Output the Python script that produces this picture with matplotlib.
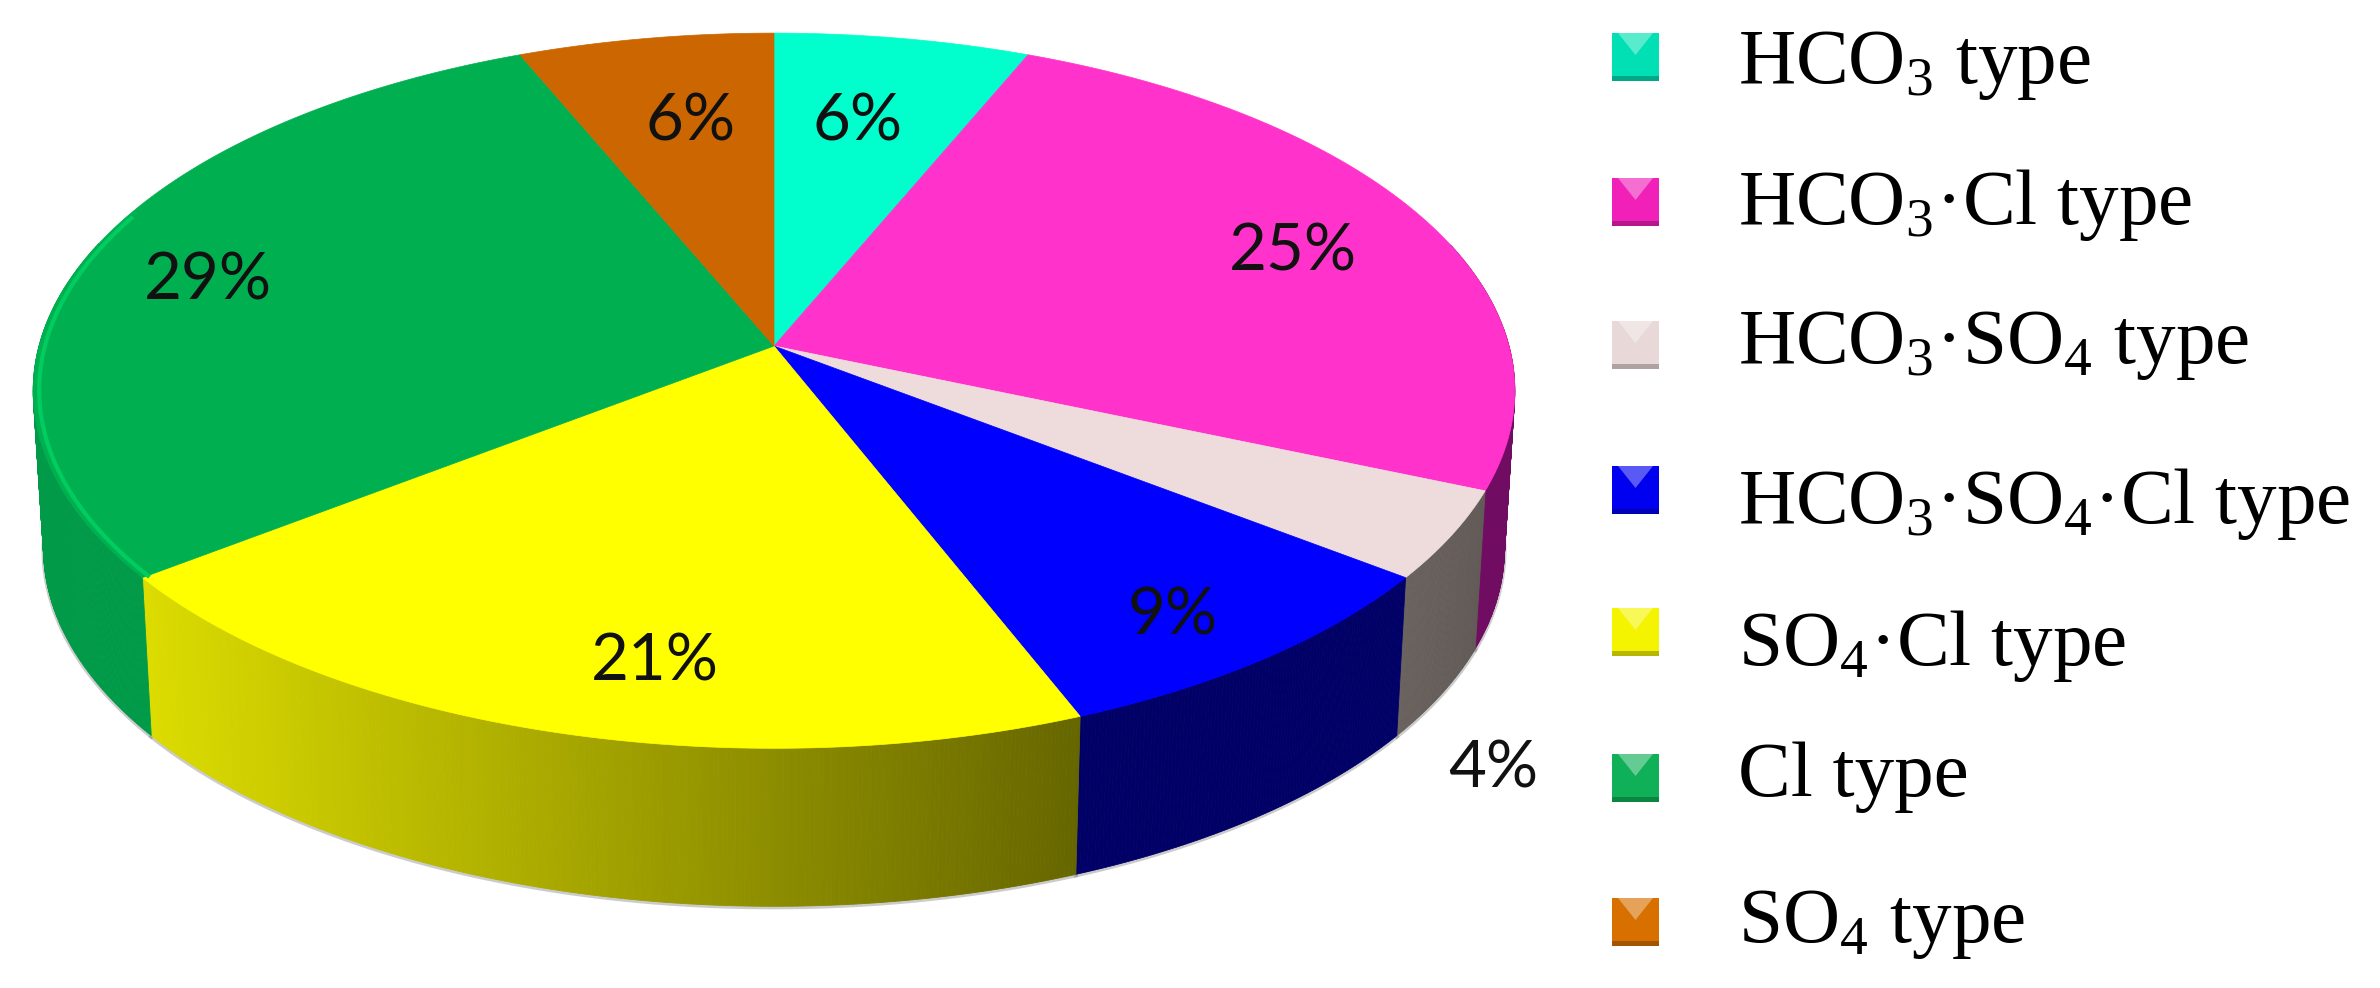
import numpy as np
import matplotlib
matplotlib.use('Agg')
import matplotlib.pyplot as plt
from matplotlib.colors import to_rgb
from matplotlib.patches import Polygon, Rectangle

plt.rcParams['mathtext.fontset'] = 'custom'
plt.rcParams['mathtext.rm'] = 'Liberation Serif'

# data
names = ['HCO$_3$ type', 'HCO$_3$·Cl type', 'HCO$_3$·SO$_4$ type', 'HCO$_3$·SO$_4$·Cl type',
         'SO$_4$·Cl type', 'Cl type', 'SO$_4$ type']
values = [6.3, 25.1, 4.0, 8.6, 20.6, 29.1, 6.3]

# colours
top_colors = ['#00ffcc', '#ff33cc', '#eedcdc', '#0000ff', '#ffff00', '#00b050', '#cc6600']
wall_left = ['#009977', '#8a1478', '#6a625e', '#000066', '#dcdc00', '#009a48', '#7a3d00']
wall_right = ['#009977', '#700c62', '#625a56', '#000066', '#666600', '#009a48', '#7a3d00']
key_colors = ['#00e0b4', '#f020b8', '#e8d8d8', '#0000f0', '#f4f400', '#10b058', '#d87000']

# layout, in pixels of the picture
cx, cy = 774, 346
half_w, half_h = 735, 352
persp = 0.125
depth = 158
shrink = 0.986
label_xy = [(858, 122), (1293, 252), (1493, 769), (1173, 616), (655, 662), (208, 281), (691, 122)]
key_y = [57, 202, 345, 490, 632, 778, 922]
text_y = [83, 224, 363, 523, 665, 796, 942]


def project(theta, radius=1.0):
    # disc seen at an angle: clockwise from 12 o'clock, nearer edge is larger
    u = radius * np.sin(theta)
    v = radius * np.cos(theta)
    d = 1 + persp * v
    return cx + half_w * u / d, cy - half_h * v / d


fig = plt.figure(figsize=(23.8, 9.88), dpi=100)
ax = fig.add_axes([0, 0, 1, 1])
ax.set_xlim(0, 2380)
ax.set_ylim(988, 0)
ax.axis('off')

edges = np.cumsum([0] + values) / sum(values) * 2 * np.pi

# side walls
for i in range(len(values)):
    th = np.linspace(edges[i], edges[i + 1], int(values[i] * 12) + 2)
    x, y = project(th)
    xb = cx + (x - cx) * shrink
    yb = y + depth
    ax.plot(xb, yb + 1, color='#555555', alpha=0.3, lw=3, zorder=1)
    c0, c1 = np.array(to_rgb(wall_left[i])), np.array(to_rgb(wall_right[i]))
    # the yellow wall darkens left to right, the others are near flat
    xmin, xmax = x.min(), x.max()
    for j in range(len(th) - 1):
        if np.cos(th[j]) > 0.3:
            continue
        t = (0.5 * (x[j] + x[j + 1]) - xmin) / max(xmax - xmin, 1)
        col = c0 + (c1 - c0) * t
        ax.fill([x[j], x[j + 1], xb[j + 1], xb[j]],
                [y[j], y[j + 1], yb[j + 1], yb[j]],
                color=col, lw=0.6, zorder=2)

# top face
for i in range(len(values)):
    th = np.linspace(edges[i], edges[i + 1], int(values[i] * 12) + 2)
    x, y = project(th)
    ax.add_patch(Polygon(np.column_stack([np.r_[cx, x], np.r_[cy, y]]), closed=True,
                         facecolor=top_colors[i], edgecolor=top_colors[i], lw=0.5, zorder=3))

# lighter rim on the lower part of the green slice
th = np.linspace(edges[5], edges[5] + np.radians(60), 100)
x, y = project(th, 0.992)
ax.plot(x, y, color='#00cc60', lw=3, zorder=4)

# percent labels
for val, (lx, ly) in zip(values, label_xy):
    ax.text(lx, ly, f'{val:.0f}%', fontsize=47, family='Lato', color='#111111',
            ha='center', va='center', zorder=5)

# legend
for name, col, ky, ty in zip(names, key_colors, key_y, text_y):
    base = np.array(to_rgb(col))
    light = base + (1 - base) * 0.35
    dark = base * 0.75
    x0, x1 = 1612, 1659
    y0, y1 = ky - 24, ky + 24
    ax.add_patch(Rectangle((x0, y0), x1 - x0, y1 - y0, facecolor=col, edgecolor='none', zorder=3))
    ax.add_patch(Polygon([(x0 + 6, y0), (x1 - 6, y0), (0.5 * (x0 + x1), ky - 2)],
                         facecolor=light, edgecolor='none', zorder=4))
    ax.add_patch(Rectangle((x0, y1 - 5), x1 - x0, 5, facecolor=dark, edgecolor='none', zorder=4))
    ax.text(1738, ty, name, fontsize=57, family='Liberation Serif', color='black',
            ha='left', va='baseline', zorder=5)

fig.savefig('out.png', dpi=100)
